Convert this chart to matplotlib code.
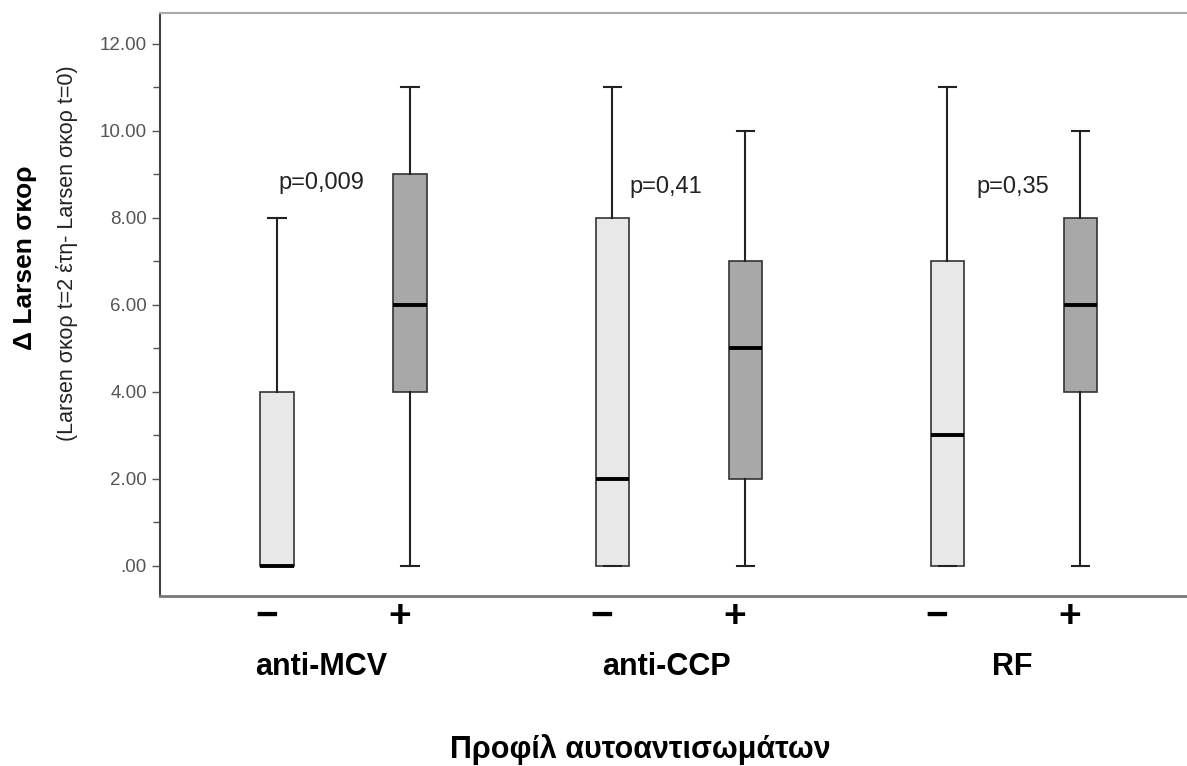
import matplotlib
matplotlib.use('Agg')
import matplotlib.pyplot as plt
from matplotlib.ticker import MultipleLocator

plt.rcParams['font.family'] = ['Liberation Sans', 'DejaVu Sans']

# Data
groups = ['anti-MCV', 'anti-CCP', 'RF']
signs = ['\u2212', '+']
q1 = [0, 4, 0, 2, 0, 4]
med = [0, 6, 2, 5, 3, 6]
q3 = [4, 9, 8, 7, 7, 8]
whislo = [0, 0, 0, 0, 0, 0]
whishi = [8, 11, 11, 10, 11, 10]
p_values = ['p=0,009', 'p=0,41', 'p=0,35']
p_heights = [8.8, 8.7, 8.7]
y_ticks = [0, 2, 4, 6, 8, 10, 12]
y_tick_labels = ['.00', '2.00', '4.00', '6.00', '8.00', '10.00', '12.00']

# Layout: pairs of boxes, one unit apart inside a pair
group_gap = 2.52
positions = []
for g in range(len(groups)):
    positions += [g * group_gap - 0.5, g * group_gap + 0.5]
colors = ['#e8e8e8', '#a8a8a8'] * len(groups)
label_shift = [-0.165, -0.095, -0.01]  # group labels sit a bit left of the pair centre

stats = []
for i in range(len(positions)):
    stats.append({'q1': q1[i], 'med': med[i], 'q3': q3[i],
                  'whislo': whislo[i], 'whishi': whishi[i], 'fliers': []})

fig = plt.figure(figsize=(11.87, 7.66), dpi=100)
ax = fig.add_axes([160 / 1187, 1 - 596 / 766, (1200 - 160) / 1187, (596 - 13) / 766])

bp = ax.bxp(stats, positions=positions, widths=0.25, patch_artist=True,
            showfliers=False, capwidths=0.13,
            boxprops=dict(edgecolor='#333333', linewidth=1.2),
            whiskerprops=dict(color='#222222', linewidth=1.5),
            capprops=dict(color='#222222', linewidth=1.5),
            medianprops=dict(color='black', linewidth=2.8))
for patch, c in zip(bp['boxes'], colors):
    patch.set_facecolor(c)

ax.set_xlim(-1.38, 6.44)
ax.set_ylim(-0.69, 12.71)

ax.set_yticks(y_ticks)
ax.set_yticklabels(y_tick_labels, fontsize=13.5, color='#555555')
ax.yaxis.set_minor_locator(MultipleLocator(1))
ax.tick_params(axis='y', which='major', length=6, width=1, color='#555555', direction='out')
ax.tick_params(axis='y', which='minor', length=5, width=1, color='#555555', direction='out')

# minus / plus under each box
ax.set_xticks([p - 0.08 for p in positions])
ax.set_xticklabels(signs * len(groups), fontsize=28, fontweight='bold')
ax.tick_params(axis='x', length=0, pad=2)

ax.spines['right'].set_visible(False)
ax.spines['left'].set_color('#444444')
ax.spines['left'].set_linewidth(1.5)
ax.spines['top'].set_color('#aaaaaa')
ax.spines['top'].set_linewidth(1.5)
ax.spines['bottom'].set_color('#777777')
ax.spines['bottom'].set_linewidth(2)

# p-values and group names
for g in range(len(groups)):
    xc = g * group_gap + label_shift[g]
    ax.text(xc, p_heights[g], p_values[g], fontsize=17, ha='center', va='center', color='#222222')
    ax.annotate(groups[g], xy=(xc, 0), xycoords=('data', 'axes fraction'),
                xytext=(0, -71), textcoords='offset pixels',
                fontsize=22, fontweight='bold', ha='center', va='center')

fig.text(640 / 1187, 1 - 750 / 766, 'Προφίλ αυτοαντισωμάτων', fontsize=22,
         fontweight='bold', ha='center', va='center')

fig.text(25 / 1187, 1 - 258 / 766, 'Δ Larsen σκορ', fontsize=19, fontweight='bold',
         rotation=90, ha='center', va='center')
fig.text(67 / 1187, 1 - 253 / 766, '(Larsen σκορ t=2 έτη- Larsen σκορ t=0)', fontsize=15.5,
         rotation=90, ha='center', va='center', color='#222222')

fig.savefig('out.png', dpi=100)
